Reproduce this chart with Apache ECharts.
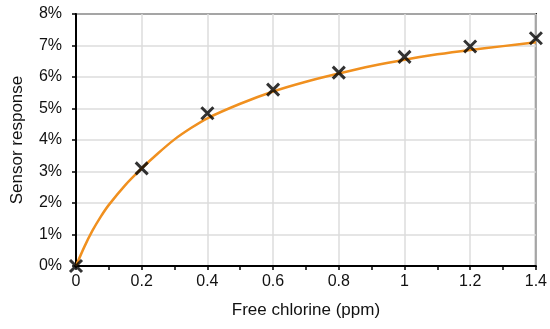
<!DOCTYPE html>
<html>
<head>
<meta charset="utf-8">
<script src="https://cdn.jsdelivr.net/npm/echarts@6/dist/echarts.min.js"></script>
<style>
  html, body { margin: 0; padding: 0; background: #fff; }
  #chart { width: 550px; height: 329px; }
</style>
</head>
<body>
<div id="chart"></div>
<script>
// measured points (free chlorine in ppm, response in %)
const chlorine = [0, 0.2, 0.4, 0.6, 0.8, 1.0, 1.2, 1.4];
const response = [0, 3.1, 4.85, 5.6, 6.14, 6.64, 6.97, 7.23];

// fitted curve
const fitX = [0, 0.025, 0.05, 0.075, 0.1, 0.15, 0.2, 0.25, 0.3, 0.35, 0.4, 0.5, 0.6, 0.7, 0.8, 0.9, 1.0, 1.1, 1.2, 1.3, 1.4];
const fitY = [0, 0.6, 1.12, 1.56, 1.94, 2.57, 3.1, 3.58, 4.02, 4.38, 4.69, 5.15, 5.54, 5.85, 6.11, 6.35, 6.55, 6.72, 6.86, 6.98, 7.1];

const chart = echarts.init(document.getElementById('chart'));

const font = 'Liberation Sans, Arial, Helvetica, sans-serif';

const option = {
  animation: false,
  grid: {
    left: 76, right: 13, top: 14, bottom: 63,
    show: true,
    borderColor: '#000',
    borderWidth: 2,
  },
  xAxis: {
    type: 'value',
    min: 0, max: 1.4, interval: 0.2,
    name: 'Free chlorine (ppm)',
    nameLocation: 'middle',
    nameGap: 36,
    nameTextStyle: { color: '#111', fontSize: 17, fontFamily: font },
    axisLine: { lineStyle: { color: '#000', width: 2 } },
    axisTick: { show: true, length: 4, lineStyle: { color: '#000', width: 1.5 } },
    minorTick: { show: true, splitNumber: 2, length: 4, lineStyle: { color: '#000', width: 1.5 } },
    axisLabel: {
      color: '#111', fontSize: 16, fontFamily: font, margin: 8,
      formatter: v => String(Math.round(v * 10) / 10),
    },
    splitLine: { show: true, lineStyle: { color: '#dcdcdc', width: 1.5 } },
  },
  yAxis: {
    type: 'value',
    min: 0, max: 8, interval: 1,
    name: 'Sensor response',
    nameLocation: 'middle',
    nameGap: 50,
    nameTextStyle: { color: '#111', fontSize: 17, fontFamily: font },
    axisLine: { lineStyle: { color: '#000', width: 2 } },
    axisTick: { show: true, length: 4, lineStyle: { color: '#000', width: 1.5 } },
    axisLabel: { color: '#111', fontSize: 16, fontFamily: font, margin: 14, formatter: '{value}%' },
    splitLine: { show: true, lineStyle: { color: '#dcdcdc', width: 1.5 } },
  },
  series: [
    {
      name: 'Fit',
      type: 'line',
      data: fitX.map((x, i) => [x, fitY[i]]),
      smooth: 0.3,
      showSymbol: false,
      symbol: 'none',
      lineStyle: { color: '#f0901f', width: 2.5 },
      z: 2,
    },
    {
      name: 'Measured',
      type: 'scatter',
      data: chlorine.map((x, i) => [x, response[i]]),
      symbol: 'path://M0,0L10,10M10,0L0,10',
      symbolSize: 12,
      itemStyle: { color: 'none', borderColor: '#000', borderWidth: 3 },
      clip: false,
      z: 3,
    },
  ],
};

chart.setOption(option);
</script>
</body>
</html>
